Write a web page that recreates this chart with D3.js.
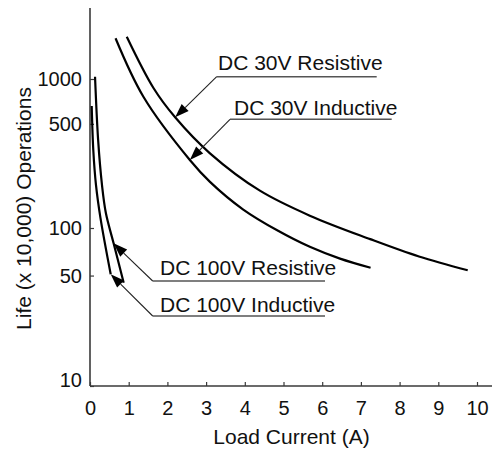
<!DOCTYPE html>
<html>
<head>
<meta charset="utf-8">
<script src="https://cdn.jsdelivr.net/npm/d3@7"></script>
<style>
  html, body { margin: 0; padding: 0; background: #fff; }
  svg { display: block; font-family: "Liberation Sans", Arial, Helvetica, sans-serif; }
</style>
</head>
<body>
<svg id="chart" width="495" height="452"></svg>
<script>
// ---- data ----
const xTicks = [0, 1, 2, 3, 4, 5, 6, 7, 8, 9, 10];
const yTicks = [10, 50, 100, 500, 1000];

// Load current (A) vs life (x 10,000 operations)
const dc30ResistiveX = [0.95, 1.64, 2.20, 3.10, 4.39, 5.68, 7.24, 8.50, 9.76];
const dc30ResistiveY = [1920, 870, 553, 317, 178, 121, 85, 66, 54];

const dc30InductiveX = [0.66, 1.38, 2.58, 3.10, 3.96, 4.86, 5.68, 6.46, 7.25];
const dc30InductiveY = [1876, 760, 286, 204, 133, 96, 76, 64, 56];

const dc100ResistiveX = [0.13, 0.21, 0.31, 0.41, 0.61, 0.87];
const dc100ResistiveY = [1035, 390, 194, 126, 80, 45];

const dc100InductiveX = [0.044, 0.085, 0.155, 0.27, 0.535];
const dc100InductiveY = [659, 334, 194, 117, 51];

const seriesNames = ["DC 30V Resistive", "DC 30V Inductive", "DC 100V Resistive", "DC 100V Inductive"];
// point on each curve that the label arrow points at (data units)
const arrowTipX = [2.20, 2.58, 0.61, 0.535];
const arrowTipY = [553, 286, 80, 51];

// ---- layout ----
const svg = d3.select("#chart");
const x = d3.scaleLinear().domain([0, 10]).range([90, 477]);
const y = d3.scaleLog().domain([10, 100, 1000, 3000]).range([386, 228, 79, 7.9]);

const axisColor = "#3a3a3a";

// axes
const xAxis = svg.append("g").attr("transform", "translate(0,386)")
  .call(d3.axisBottom(x).tickValues(xTicks).tickFormat(d3.format("d"))
    .tickSizeInner(-4).tickSizeOuter(0).tickPadding(15));
xAxis.select(".domain").remove();
xAxis.selectAll(".tick line").attr("stroke", axisColor).attr("stroke-width", 1.2);
xAxis.selectAll(".tick text").attr("font-size", 20).attr("fill", "#111")
  .attr("font-family", "Liberation Sans, Arial, sans-serif");

const yAxis = svg.append("g").attr("transform", "translate(90,0)")
  .call(d3.axisLeft(y).tickValues(yTicks).tickFormat(d3.format("d"))
    .tickSizeInner(-4).tickSizeOuter(0).tickPadding(8));
yAxis.select(".domain").remove();
yAxis.selectAll(".tick line").attr("stroke", axisColor).attr("stroke-width", 1.2);
yAxis.selectAll(".tick text").attr("font-size", 20).attr("fill", "#111")
  .attr("font-family", "Liberation Sans, Arial, sans-serif")
  .attr("dy", d => d === 10 ? "-0.0em" : "0.34em");

// axis lines
svg.append("line").attr("x1", x(0)).attr("x2", 492).attr("y1", y(10)).attr("y2", y(10))
  .attr("stroke", axisColor).attr("stroke-width", 1.6);
svg.append("line").attr("x1", x(0)).attr("x2", x(0)).attr("y1", y(10)).attr("y2", y(3000))
  .attr("stroke", axisColor).attr("stroke-width", 1.6);

// axis titles
svg.append("text").attr("x", 291.5).attr("y", 444).attr("text-anchor", "middle")
  .attr("font-size", 21).attr("fill", "#111").text("Load Current (A)");
svg.append("text").attr("transform", "translate(31,208.5) rotate(-90)")
  .attr("text-anchor", "middle").attr("font-size", 21).attr("fill", "#111")
  .text("Life (x 10,000) Operations");

// curves
const line = d3.line().x(d => x(d[0])).y(d => y(d[1])).curve(d3.curveCatmullRom.alpha(0.5));
const curves = [
  d3.zip(dc30ResistiveX, dc30ResistiveY),
  d3.zip(dc30InductiveX, dc30InductiveY),
  d3.zip(dc100ResistiveX, dc100ResistiveY),
  d3.zip(dc100InductiveX, dc100InductiveY)
];
svg.append("g").selectAll("path").data(curves).join("path")
  .attr("d", line).attr("fill", "none").attr("stroke", "#000").attr("stroke-width", 2.2);

// labels with underline and arrow (pixel layout)
const labelLayout = [
  { elbowX: 216.7, elbowY: 76.7, endX: 376.7, textX: 218, textY: 70 },
  { elbowX: 230,   elbowY: 119.3, endX: 391.7, textX: 234, textY: 115 },
  { elbowX: 152.7, elbowY: 281, endX: 325, textX: 160, textY: 275 },
  { elbowX: 152.7, elbowY: 316, endX: 325, textX: 160, textY: 312 }
];
const ann = svg.append("g");
seriesNames.forEach((name, i) => {
  const L = labelLayout[i];
  const tx = x(arrowTipX[i]), ty = y(arrowTipY[i]);
  ann.append("text").attr("x", L.textX).attr("y", L.textY).attr("font-size", 21)
    .attr("fill", "#111").text(name);
  ann.append("line").attr("x1", L.elbowX).attr("y1", L.elbowY).attr("x2", L.endX).attr("y2", L.elbowY)
    .attr("stroke", "#555").attr("stroke-width", 1.6);
  const ang = Math.atan2(ty - L.elbowY, tx - L.elbowX);
  const len = 14, hw = 5;
  const bx = tx - len * Math.cos(ang), by = ty - len * Math.sin(ang);
  ann.append("line").attr("x1", L.elbowX).attr("y1", L.elbowY).attr("x2", bx).attr("y2", by)
    .attr("stroke", "#222").attr("stroke-width", 1.1);
  const px = -Math.sin(ang), py = Math.cos(ang);
  ann.append("path")
    .attr("d", `M${tx},${ty}L${bx + hw * px},${by + hw * py}L${bx - hw * px},${by - hw * py}Z`)
    .attr("fill", "#000");
});
</script>
</body>
</html>
